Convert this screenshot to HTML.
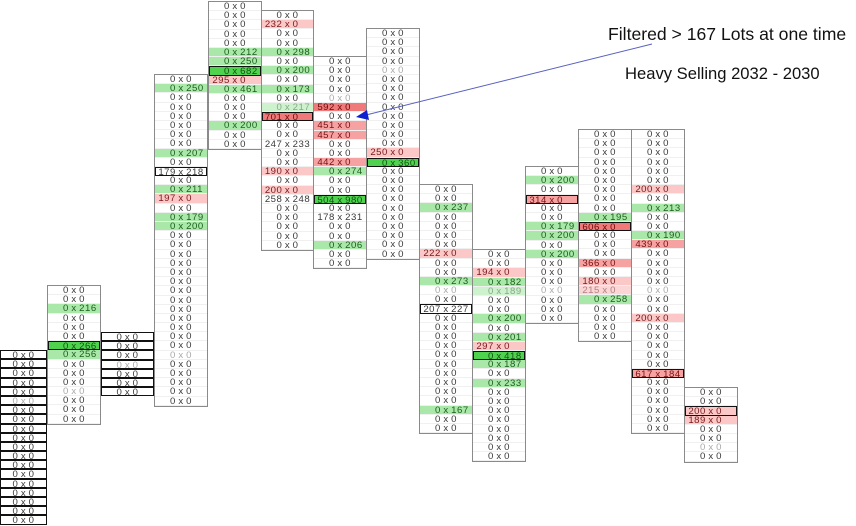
<!DOCTYPE html>
<html><head><meta charset="utf-8"><style>
body{margin:0;width:856px;height:517px;overflow:hidden;background:#fff;position:relative;font-family:"Liberation Sans",sans-serif}
.c{position:absolute;border:1px solid #8a8a8a;background:#fff;box-sizing:border-box}
.r{height:9.2px;line-height:9.2px;font-size:9.6px;display:flex;color:#3a3a3a;box-sizing:border-box;border-bottom:1px solid #f0f0f0;letter-spacing:.5px;white-space:nowrap;overflow:visible}
.r a{flex:1;color:inherit}
.r a:first-child{text-align:right;padding-right:2.5px}
.r a:last-child{text-align:left;padding-left:2.5px}
.o{border:1.4px solid #111}
.q{color:#aaa}
.g{background:#a9e8a9;color:#1b5e1b}
.lg{background:#cdf2cd;color:#8aa88a}
.G{background:#4fd34f;color:#145014;border:1.4px solid #111}
.r1{background:#fbc7c7;color:#7a1818}
.r2{background:#f7a2a2;color:#7a1010}
.r3{background:#f07a7a;color:#6a0a0a}
.lr{background:#fbd6d6;color:#b08080}
.A{border:none;background:transparent}
.t{position:absolute;color:#111;white-space:nowrap}
</style></head><body>

<!-- A -->
<div class="c A" style="left:0;top:350px;width:47px">
<div class="r o"><a>0</a>x<a>0</a></div><div class="r o"><a>0</a>x<a>0</a></div><div class="r o"><a>0</a>x<a>0</a></div><div class="r o"><a>0</a>x<a>0</a></div><div class="r o"><a>0</a>x<a>0</a></div><div class="r o q"><a>0</a>x<a>0</a></div><div class="r o"><a>0</a>x<a>0</a></div><div class="r o"><a>0</a>x<a>0</a></div><div class="r o"><a>0</a>x<a>0</a></div><div class="r o"><a>0</a>x<a>0</a></div><div class="r o"><a>0</a>x<a>0</a></div><div class="r o"><a>0</a>x<a>0</a></div><div class="r o"><a>0</a>x<a>0</a></div><div class="r o"><a>0</a>x<a>0</a></div><div class="r o"><a>0</a>x<a>0</a></div><div class="r o"><a>0</a>x<a>0</a></div><div class="r o"><a>0</a>x<a>0</a></div><div class="r o"><a>0</a>x<a>0</a></div><div class="r o"><a>0</a>x<a>0</a></div>
</div>

<!-- B -->
<div class="c" style="left:47px;top:285px;width:54px">
<div class="r"><a>0</a>x<a>0</a></div><div class="r"><a>0</a>x<a>0</a></div><div class="r g"><a>0</a>x<a>216</a></div><div class="r"><a>0</a>x<a>0</a></div><div class="r"><a>0</a>x<a>0</a></div><div class="r"><a>0</a>x<a>0</a></div><div class="r G"><a>0</a>x<a>266</a></div><div class="r g"><a>0</a>x<a>256</a></div><div class="r"><a>0</a>x<a>0</a></div><div class="r"><a>0</a>x<a>0</a></div><div class="r"><a>0</a>x<a>0</a></div><div class="r q"><a>0</a>x<a>0</a></div><div class="r"><a>0</a>x<a>0</a></div><div class="r"><a>0</a>x<a>0</a></div><div class="r"><a>0</a>x<a>0</a></div>
</div>

<!-- C -->
<div class="c A" style="left:101px;top:332px;width:53px">
<div class="r o"><a>0</a>x<a>0</a></div><div class="r o"><a>0</a>x<a>0</a></div><div class="r o"><a>0</a>x<a>0</a></div><div class="r o q"><a>0</a>x<a>0</a></div><div class="r o"><a>0</a>x<a>0</a></div><div class="r o"><a>0</a>x<a>0</a></div><div class="r o"><a>0</a>x<a>0</a></div>
</div>

<!-- D -->
<div class="c" style="left:154px;top:74px;width:54px">
<div class="r"><a>0</a>x<a>0</a></div><div class="r g"><a>0</a>x<a>250</a></div><div class="r"><a>0</a>x<a>0</a></div><div class="r"><a>0</a>x<a>0</a></div><div class="r"><a>0</a>x<a>0</a></div><div class="r"><a>0</a>x<a>0</a></div><div class="r"><a>0</a>x<a>0</a></div><div class="r"><a>0</a>x<a>0</a></div><div class="r g"><a>0</a>x<a>207</a></div><div class="r"><a>0</a>x<a>0</a></div><div class="r o"><a>179</a>x<a>218</a></div><div class="r"><a>0</a>x<a>0</a></div><div class="r g"><a>0</a>x<a>211</a></div><div class="r r1"><a>197</a>x<a>0</a></div><div class="r"><a>0</a>x<a>0</a></div><div class="r g"><a>0</a>x<a>179</a></div><div class="r g"><a>0</a>x<a>200</a></div><div class="r"><a>0</a>x<a>0</a></div><div class="r"><a>0</a>x<a>0</a></div><div class="r"><a>0</a>x<a>0</a></div><div class="r"><a>0</a>x<a>0</a></div><div class="r"><a>0</a>x<a>0</a></div><div class="r"><a>0</a>x<a>0</a></div><div class="r"><a>0</a>x<a>0</a></div><div class="r"><a>0</a>x<a>0</a></div><div class="r"><a>0</a>x<a>0</a></div><div class="r"><a>0</a>x<a>0</a></div><div class="r"><a>0</a>x<a>0</a></div><div class="r"><a>0</a>x<a>0</a></div><div class="r"><a>0</a>x<a>0</a></div><div class="r q"><a>0</a>x<a>0</a></div><div class="r"><a>0</a>x<a>0</a></div><div class="r"><a>0</a>x<a>0</a></div><div class="r"><a>0</a>x<a>0</a></div><div class="r"><a>0</a>x<a>0</a></div><div class="r"><a>0</a>x<a>0</a></div>
</div>

<!-- E -->
<div class="c" style="left:208px;top:1px;width:54px">
<div class="r"><a>0</a>x<a>0</a></div><div class="r"><a>0</a>x<a>0</a></div><div class="r"><a>0</a>x<a>0</a></div><div class="r"><a>0</a>x<a>0</a></div><div class="r"><a>0</a>x<a>0</a></div><div class="r g"><a>0</a>x<a>212</a></div><div class="r g"><a>0</a>x<a>250</a></div><div class="r G"><a>0</a>x<a>682</a></div><div class="r r1"><a>295</a>x<a>0</a></div><div class="r g"><a>0</a>x<a>461</a></div><div class="r"><a>0</a>x<a>0</a></div><div class="r"><a>0</a>x<a>0</a></div><div class="r"><a>0</a>x<a>0</a></div><div class="r g"><a>0</a>x<a>200</a></div><div class="r"><a>0</a>x<a>0</a></div><div class="r"><a>0</a>x<a>0</a></div>
</div>

<!-- F -->
<div class="c" style="left:261px;top:10px;width:53px">
<div class="r"><a>0</a>x<a>0</a></div><div class="r r1"><a>232</a>x<a>0</a></div><div class="r"><a>0</a>x<a>0</a></div><div class="r"><a>0</a>x<a>0</a></div><div class="r g"><a>0</a>x<a>298</a></div><div class="r"><a>0</a>x<a>0</a></div><div class="r g"><a>0</a>x<a>200</a></div><div class="r"><a>0</a>x<a>0</a></div><div class="r g"><a>0</a>x<a>173</a></div><div class="r"><a>0</a>x<a>0</a></div><div class="r lg"><a>0</a>x<a>217</a></div><div class="r r3 o"><a>701</a>x<a>0</a></div><div class="r"><a>0</a>x<a>0</a></div><div class="r"><a>0</a>x<a>0</a></div><div class="r"><a>247</a>x<a>233</a></div><div class="r"><a>0</a>x<a>0</a></div><div class="r"><a>0</a>x<a>0</a></div><div class="r r1"><a>190</a>x<a>0</a></div><div class="r"><a>0</a>x<a>0</a></div><div class="r r1"><a>200</a>x<a>0</a></div><div class="r"><a>258</a>x<a>248</a></div><div class="r"><a>0</a>x<a>0</a></div><div class="r"><a>0</a>x<a>0</a></div><div class="r"><a>0</a>x<a>0</a></div><div class="r"><a>0</a>x<a>0</a></div><div class="r"><a>0</a>x<a>0</a></div>
</div>

<!-- G -->
<div class="c" style="left:313px;top:56px;width:54px">
<div class="r"><a>0</a>x<a>0</a></div><div class="r"><a>0</a>x<a>0</a></div><div class="r"><a>0</a>x<a>0</a></div><div class="r"><a>0</a>x<a>0</a></div><div class="r q"><a>0</a>x<a>0</a></div><div class="r r3"><a>592</a>x<a>0</a></div><div class="r"><a>0</a>x<a>0</a></div><div class="r r2"><a>451</a>x<a>0</a></div><div class="r r2"><a>457</a>x<a>0</a></div><div class="r"><a>0</a>x<a>0</a></div><div class="r"><a>0</a>x<a>0</a></div><div class="r r2"><a>442</a>x<a>0</a></div><div class="r g"><a>0</a>x<a>274</a></div><div class="r"><a>0</a>x<a>0</a></div><div class="r"><a>0</a>x<a>0</a></div><div class="r G"><a>504</a>x<a>980</a></div><div class="r"><a>0</a>x<a>0</a></div><div class="r"><a>178</a>x<a>231</a></div><div class="r"><a>0</a>x<a>0</a></div><div class="r"><a>0</a>x<a>0</a></div><div class="r g"><a>0</a>x<a>206</a></div><div class="r"><a>0</a>x<a>0</a></div><div class="r"><a>0</a>x<a>0</a></div>
</div>

<!-- H -->
<div class="c" style="left:366px;top:28px;width:54px">
<div class="r"><a>0</a>x<a>0</a></div><div class="r"><a>0</a>x<a>0</a></div><div class="r"><a>0</a>x<a>0</a></div><div class="r"><a>0</a>x<a>0</a></div><div class="r q"><a>0</a>x<a>0</a></div><div class="r"><a>0</a>x<a>0</a></div><div class="r"><a>0</a>x<a>0</a></div><div class="r"><a>0</a>x<a>0</a></div><div class="r"><a>0</a>x<a>0</a></div><div class="r"><a>0</a>x<a>0</a></div><div class="r"><a>0</a>x<a>0</a></div><div class="r"><a>0</a>x<a>0</a></div><div class="r"><a>0</a>x<a>0</a></div><div class="r r1"><a>250</a>x<a>0</a></div><div class="r G"><a>0</a>x<a>360</a></div><div class="r"><a>0</a>x<a>0</a></div><div class="r"><a>0</a>x<a>0</a></div><div class="r"><a>0</a>x<a>0</a></div><div class="r"><a>0</a>x<a>0</a></div><div class="r"><a>0</a>x<a>0</a></div><div class="r"><a>0</a>x<a>0</a></div><div class="r"><a>0</a>x<a>0</a></div><div class="r"><a>0</a>x<a>0</a></div><div class="r"><a>0</a>x<a>0</a></div><div class="r"><a>0</a>x<a>0</a></div>
</div>

<!-- I -->
<div class="c" style="left:419px;top:184px;width:54px">
<div class="r"><a>0</a>x<a>0</a></div><div class="r"><a>0</a>x<a>0</a></div><div class="r g"><a>0</a>x<a>237</a></div><div class="r"><a>0</a>x<a>0</a></div><div class="r"><a>0</a>x<a>0</a></div><div class="r"><a>0</a>x<a>0</a></div><div class="r"><a>0</a>x<a>0</a></div><div class="r r1"><a>222</a>x<a>0</a></div><div class="r"><a>0</a>x<a>0</a></div><div class="r"><a>0</a>x<a>0</a></div><div class="r g"><a>0</a>x<a>273</a></div><div class="r q"><a>0</a>x<a>0</a></div><div class="r"><a>0</a>x<a>0</a></div><div class="r o"><a>207</a>x<a>227</a></div><div class="r"><a>0</a>x<a>0</a></div><div class="r"><a>0</a>x<a>0</a></div><div class="r"><a>0</a>x<a>0</a></div><div class="r"><a>0</a>x<a>0</a></div><div class="r"><a>0</a>x<a>0</a></div><div class="r"><a>0</a>x<a>0</a></div><div class="r"><a>0</a>x<a>0</a></div><div class="r"><a>0</a>x<a>0</a></div><div class="r"><a>0</a>x<a>0</a></div><div class="r"><a>0</a>x<a>0</a></div><div class="r g"><a>0</a>x<a>167</a></div><div class="r"><a>0</a>x<a>0</a></div><div class="r"><a>0</a>x<a>0</a></div>
</div>

<!-- J -->
<div class="c" style="left:472px;top:249px;width:54px">
<div class="r"><a>0</a>x<a>0</a></div><div class="r"><a>0</a>x<a>0</a></div><div class="r r1"><a>194</a>x<a>0</a></div><div class="r g"><a>0</a>x<a>182</a></div><div class="r lg"><a>0</a>x<a>189</a></div><div class="r"><a>0</a>x<a>0</a></div><div class="r"><a>0</a>x<a>0</a></div><div class="r g"><a>0</a>x<a>200</a></div><div class="r"><a>0</a>x<a>0</a></div><div class="r g"><a>0</a>x<a>201</a></div><div class="r r1"><a>297</a>x<a>0</a></div><div class="r G"><a>0</a>x<a>418</a></div><div class="r g"><a>0</a>x<a>187</a></div><div class="r"><a>0</a>x<a>0</a></div><div class="r g"><a>0</a>x<a>233</a></div><div class="r"><a>0</a>x<a>0</a></div><div class="r"><a>0</a>x<a>0</a></div><div class="r"><a>0</a>x<a>0</a></div><div class="r"><a>0</a>x<a>0</a></div><div class="r"><a>0</a>x<a>0</a></div><div class="r"><a>0</a>x<a>0</a></div><div class="r"><a>0</a>x<a>0</a></div><div class="r"><a>0</a>x<a>0</a></div>
</div>

<!-- K -->
<div class="c" style="left:525px;top:166px;width:54px">
<div class="r"><a>0</a>x<a>0</a></div><div class="r g"><a>0</a>x<a>200</a></div><div class="r"><a>0</a>x<a>0</a></div><div class="r r2 o"><a>314</a>x<a>0</a></div><div class="r"><a>0</a>x<a>0</a></div><div class="r"><a>0</a>x<a>0</a></div><div class="r g"><a>0</a>x<a>179</a></div><div class="r g"><a>0</a>x<a>200</a></div><div class="r"><a>0</a>x<a>0</a></div><div class="r g"><a>0</a>x<a>200</a></div><div class="r"><a>0</a>x<a>0</a></div><div class="r"><a>0</a>x<a>0</a></div><div class="r"><a>0</a>x<a>0</a></div><div class="r q"><a>0</a>x<a>0</a></div><div class="r"><a>0</a>x<a>0</a></div><div class="r"><a>0</a>x<a>0</a></div><div class="r"><a>0</a>x<a>0</a></div>
</div>

<!-- L -->
<div class="c" style="left:578px;top:129px;width:54px">
<div class="r"><a>0</a>x<a>0</a></div><div class="r"><a>0</a>x<a>0</a></div><div class="r"><a>0</a>x<a>0</a></div><div class="r"><a>0</a>x<a>0</a></div><div class="r"><a>0</a>x<a>0</a></div><div class="r"><a>0</a>x<a>0</a></div><div class="r"><a>0</a>x<a>0</a></div><div class="r"><a>0</a>x<a>0</a></div><div class="r"><a>0</a>x<a>0</a></div><div class="r g"><a>0</a>x<a>195</a></div><div class="r r3 o"><a>606</a>x<a>0</a></div><div class="r"><a>0</a>x<a>0</a></div><div class="r"><a>0</a>x<a>0</a></div><div class="r"><a>0</a>x<a>0</a></div><div class="r r2"><a>366</a>x<a>0</a></div><div class="r"><a>0</a>x<a>0</a></div><div class="r r1"><a>180</a>x<a>0</a></div><div class="r lr"><a>215</a>x<a>0</a></div><div class="r g"><a>0</a>x<a>258</a></div><div class="r"><a>0</a>x<a>0</a></div><div class="r"><a>0</a>x<a>0</a></div><div class="r"><a>0</a>x<a>0</a></div><div class="r"><a>0</a>x<a>0</a></div>
</div>

<!-- M -->
<div class="c" style="left:631px;top:129px;width:54px">
<div class="r"><a>0</a>x<a>0</a></div><div class="r"><a>0</a>x<a>0</a></div><div class="r"><a>0</a>x<a>0</a></div><div class="r"><a>0</a>x<a>0</a></div><div class="r"><a>0</a>x<a>0</a></div><div class="r"><a>0</a>x<a>0</a></div><div class="r r1"><a>200</a>x<a>0</a></div><div class="r"><a>0</a>x<a>0</a></div><div class="r g"><a>0</a>x<a>213</a></div><div class="r"><a>0</a>x<a>0</a></div><div class="r"><a>0</a>x<a>0</a></div><div class="r g"><a>0</a>x<a>190</a></div><div class="r r2"><a>439</a>x<a>0</a></div><div class="r"><a>0</a>x<a>0</a></div><div class="r"><a>0</a>x<a>0</a></div><div class="r"><a>0</a>x<a>0</a></div><div class="r"><a>0</a>x<a>0</a></div><div class="r q"><a>0</a>x<a>0</a></div><div class="r"><a>0</a>x<a>0</a></div><div class="r"><a>0</a>x<a>0</a></div><div class="r r1"><a>200</a>x<a>0</a></div><div class="r"><a>0</a>x<a>0</a></div><div class="r"><a>0</a>x<a>0</a></div><div class="r"><a>0</a>x<a>0</a></div><div class="r"><a>0</a>x<a>0</a></div><div class="r"><a>0</a>x<a>0</a></div><div class="r r2 o"><a>617</a>x<a>184</a></div><div class="r"><a>0</a>x<a>0</a></div><div class="r"><a>0</a>x<a>0</a></div><div class="r"><a>0</a>x<a>0</a></div><div class="r"><a>0</a>x<a>0</a></div><div class="r"><a>0</a>x<a>0</a></div><div class="r"><a>0</a>x<a>0</a></div>
</div>

<!-- N -->
<div class="c" style="left:684px;top:387px;width:54px">
<div class="r"><a>0</a>x<a>0</a></div><div class="r"><a>0</a>x<a>0</a></div><div class="r r1 o"><a>200</a>x<a>0</a></div><div class="r r1"><a>189</a>x<a>0</a></div><div class="r"><a>0</a>x<a>0</a></div><div class="r"><a>0</a>x<a>0</a></div><div class="r q"><a>0</a>x<a>0</a></div><div class="r"><a>0</a>x<a>0</a></div>
</div>

<div class="t" style="left:608px;top:24px;font-size:17.6px">Filtered &gt; 167 Lots at one time</div>
<div class="t" style="left:625px;top:64px;font-size:16.6px">Heavy Selling 2032 - 2030</div>

<svg style="position:absolute;left:0;top:0" width="856" height="517">
<line x1="652" y1="44" x2="366" y2="115" stroke="#5560c0" stroke-width="1"/>
<polygon points="356,117 367,110 369,120" fill="#1020d0"/>
</svg>
</body></html>
